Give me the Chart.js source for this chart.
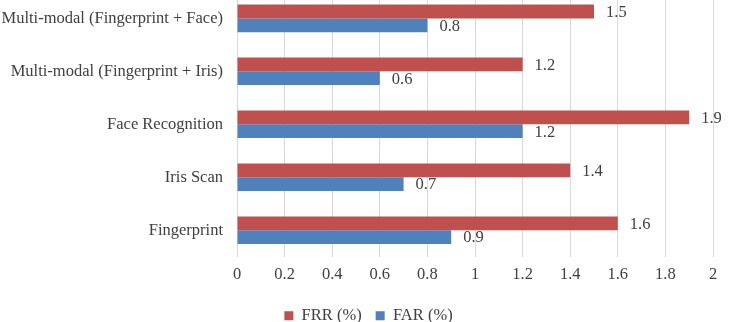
<!DOCTYPE html>
<html lang="en">
  <head>
    <meta charset="UTF-8" />
    <title>FRR / FAR</title>
    <script src="https://cdn.jsdelivr.net/npm/chart.js@4.4.1/dist/chart.umd.min.js"></script>
    <style>
      html, body { margin: 0; padding: 0; background: #fff; overflow: hidden; }
      .wrap { position: absolute; left: 0; top: -32px; width: 734px; height: 370px; }
    </style>
  </head>
  <body>
    <div class="wrap"><canvas id="chart"></canvas></div>
    <script>
      const categories = [
        "Multi-modal (Fingerprint + Face)",
        "Multi-modal (Fingerprint + Iris)",
        "Face Recognition",
        "Iris Scan",
        "Fingerprint",
      ];
      const frr = [1.5, 1.2, 1.9, 1.4, 1.6];
      const far = [0.8, 0.6, 1.2, 0.7, 0.9];
      const xTicks = [0, 0.2, 0.4, 0.6, 0.8, 1, 1.2, 1.4, 1.6, 1.8, 2];

      const font = "'Liberation Serif', 'Times New Roman', serif";
      const fontSize = 16.5;
      const textColor = "#404040";

      // value labels to the right of each bar
      const valueLabels = {
        id: "valueLabels",
        afterDatasetsDraw(chart) {
          const ctx = chart.ctx;
          ctx.save();
          ctx.font = fontSize + "px " + font;
          ctx.fillStyle = textColor;
          ctx.textAlign = "left";
          ctx.textBaseline = "middle";
          chart.data.datasets.forEach((ds, i) => {
            chart.getDatasetMeta(i).data.forEach((bar, j) => {
              ctx.fillText(String(ds.data[j]), bar.x + 12, bar.y + 1);
            });
          });
          ctx.restore();
        },
      };

      // nudge the legend a bit to the right, like the original
      const legendShift = {
        id: "legendShift",
        afterLayout(chart) {
          chart.legend.left += 12;
          chart.legend.right += 12;
        },
      };

      new Chart(document.getElementById("chart"), {
        type: "bar",
        data: {
          labels: categories,
          datasets: [
            {
              label: "FRR (%)",
              data: frr,
              backgroundColor: "#C0504D",
              categoryPercentage: 0.52,
              barPercentage: 1,
            },
            {
              label: "FAR (%)",
              data: far,
              backgroundColor: "#4F81BD",
              categoryPercentage: 0.52,
              barPercentage: 1,
            },
          ],
        },
        options: {
          indexAxis: "y",
          responsive: true,
          maintainAspectRatio: false,
          animation: false,
          layout: { padding: { left: 0, right: 21, top: 0, bottom: 4 } },
          scales: {
            x: {
              min: 0,
              max: 2,
              afterBuildTicks: (s) => { s.ticks = xTicks.map((v) => ({ value: v })); },
              afterFit: (s) => { s.height += 1; },
              grid: { color: "#d9d9d9", drawTicks: false },
              border: { display: false },
              ticks: {
                color: textColor,
                font: { family: font, size: fontSize },
                padding: 8,
                callback: (v) => String(v),
              },
            },
            y: {
              afterFit: (s) => { s.width = 237; },
              grid: { display: false, drawTicks: false },
              border: { display: false },
              ticks: {
                color: textColor,
                font: { family: font, size: fontSize },
                padding: 14,
              },
            },
          },
          plugins: {
            legend: {
              position: "bottom",
              labels: {
                color: textColor,
                font: { family: font, size: fontSize },
                boxWidth: 9,
                boxHeight: 9,
                padding: 14,
              },
            },
            tooltip: { enabled: false },
          },
        },
        plugins: [valueLabels, legendShift],
      });
    </script>
  </body>
</html>
